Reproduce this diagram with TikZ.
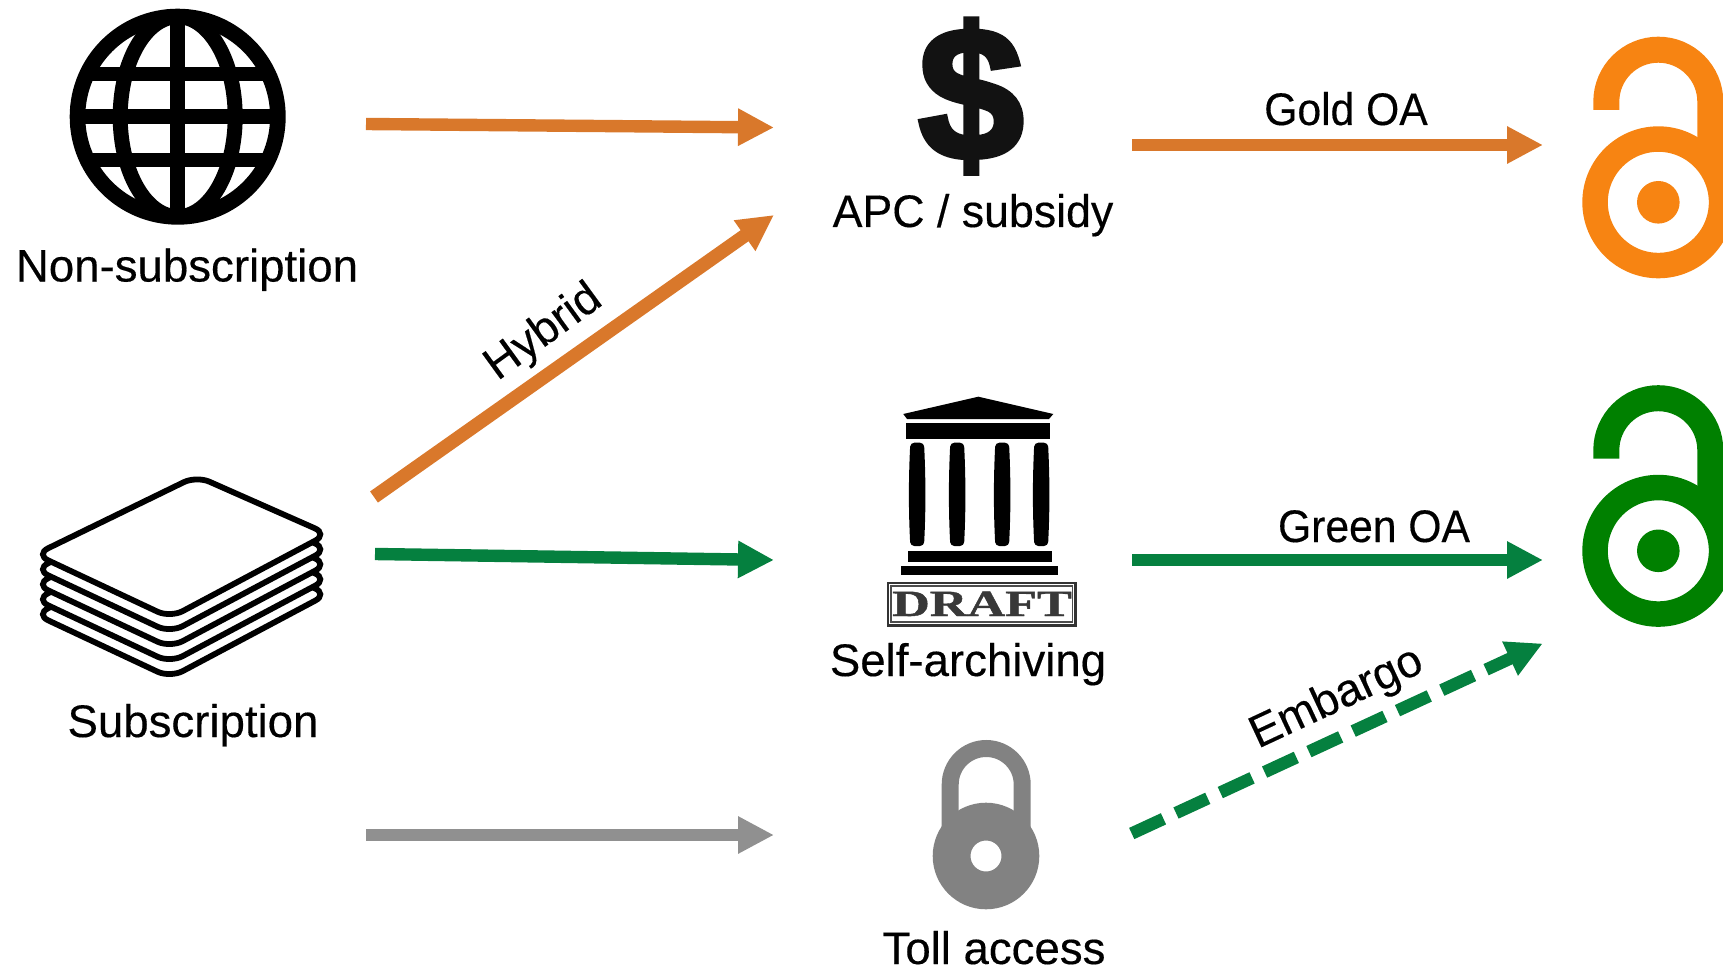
\documentclass[tikz,border=0pt]{standalone}
\usepackage{fontspec}
\setmainfont{Liberation Sans}[FakeBold=0.3]
\newfontfamily\dollarfont[FakeBold=3.2]{Liberation Sans Bold}
\newfontfamily\draftfont[FakeBold=1]{Liberation Serif Bold}
\usetikzlibrary{arrows.meta}
\definecolor{arrorange}{HTML}{D9782B}
\definecolor{arrgreen}{HTML}{05803F}
\definecolor{arrgrey}{HTML}{909090}
\definecolor{oaorange}{HTML}{F78412}
\definecolor{oagreen}{HTML}{008000}
\definecolor{lockgrey}{HTML}{828282}
\tikzset{
  lab/.style={font=\fontsize{22.8pt}{26pt}\selectfont,anchor=base,inner sep=0pt,text=black},
  flow/.style={line width=6.2pt,-{Triangle[length=18pt,width=17.5pt]}},
  sheet/.style={draw=black,fill=white,line width=2.9pt,rounded corners=7pt},
  icon/.style={fill=black,draw=none}
}
\newcommand{\oaicon}[3]{% dy, colour, name
  \begin{scope}[shift={(0,#1)}]
    \draw[#2,line width=13pt] (1606.3,110) -- (1606.3,101.7) arc[start angle=180,end angle=360,radius=52] -- (1710.3,165);
    \draw[#2,line width=12.75pt] (1658.3,202.3) circle[radius=63.25];
    \fill[#2] (1658.3,202.3) circle[radius=21.3];
  \end{scope}
}
\newcommand{\templecol}[2]{%
  \fill[black,rounded corners=2pt] (#1+1,442.7) .. controls (#1-0.8,480) and (#1-0.8,510) .. (#1+1,546) -- (#2-1,546) .. controls (#2+0.8,510) and (#2+0.8,480) .. (#2-1,442.7) -- cycle;
}
\begin{document}
\begin{tikzpicture}[x=0.5pt,y=-0.5pt]
\useasboundingbox (0,0) rectangle (1723,968);
\begin{scope}
\clip (0,0) rectangle (1723,968);

% globe
\begin{scope}
  \clip (177.7,116.7) circle[radius=105];
  \draw[black,line width=7.5pt] (177.7,116.7) ellipse[x radius=57.5,y radius=100];
  \draw[black,line width=7.3pt] (177.7,0) -- (177.7,230);
  \draw[black,line width=7.2pt] (60,74) -- (300,74);
  \draw[black,line width=7.2pt] (60,116.7) -- (300,116.7);
  \draw[black,line width=7.2pt] (60,160) -- (300,160);
\end{scope}
\draw[black,line width=7.8pt] (177.7,116.7) circle[radius=100.2];
\node[lab] (nonsub) at (187,281.5) {Non-subscription};

% stack of sheets
\foreach \dy in {60,45,30,15,0}{
  \draw[sheet,shift={(0,\dy)}] (196.5,476) -- (327.7,534) -- (170.3,617.7) -- (35.5,554.4) -- cycle;
}
\node[lab] (sub) at (193,737) {Subscription};

% dollar
\node[anchor=base,inner sep=0pt,text=black!93] (dollar) at (971,159) {\fontsize{94pt}{100pt}\selectfont\dollarfont \$};
\node[lab,xscale=0.98] (apc) at (973,227) {APC / subsidy};

% temple
\fill[black] (903.3,414) -- (978.3,396.7) -- (1053.3,414) -- (1049,419) -- (907,419) -- cycle;
\fill[black] (906,423.3) rectangle (1050,439.3);
\templecol{909.3}{925}
\templecol{949.3}{965}
\templecol{994.3}{1010}
\templecol{1033.3}{1049}
\fill[black] (907.7,551) rectangle (1051.7,561.7);
\fill[black] (901,566) rectangle (1058,574.7);
\draw[black!80,line width=1.1pt] (888,583) rectangle (1075.5,625.5);
\draw[black!70,line width=0.6pt] (891,586) rectangle (1072.5,622);
\node[inner sep=0pt,anchor=base,text=black!78,font=\fontsize{18.5pt}{20pt}\selectfont\draftfont,xscale=1.41] (draft) at (982,616) {DRAFT};
\node[lab] (self) at (968,676) {Self-archiving};

% lock
\draw[lockgrey,line width=8.5pt] (950.2,845) -- (950.2,784.5) arc[start angle=180,end angle=360,radius=36] -- (1022.2,845);
\fill[lockgrey,even odd rule] (986,856) circle[radius=53.3] (986,856) circle[radius=15.5];
\node[lab] (toll) at (994,964) {Toll access};

% open access icons
\oaicon{0}{oaorange}{oaa}
\oaicon{348.5}{oagreen}{oab}

% connector ends
\coordinate (a1s) at (366,124);  \coordinate (a1e) at (774,127.5);
\coordinate (a2s) at (374,497);  \coordinate (a2e) at (774,215);
\coordinate (a3s) at (375,554);  \coordinate (a3e) at (774,560);
\coordinate (a4s) at (366,835);  \coordinate (a4e) at (774,835);
\coordinate (a5s) at (1132,145); \coordinate (a5e) at (1543,145);
\coordinate (a6s) at (1132,560); \coordinate (a6e) at (1543,560);
\coordinate (a7s) at (1131.7,833.5); \coordinate (a7e) at (1542.7,643.5);

\draw[flow,arrorange] (a1s) -- (a1e);
\draw[flow,arrorange,line width=6.8pt] (a2s) -- (a2e);
\draw[flow,arrgreen] (a3s) -- (a3e);
\draw[flow,arrgrey] (a4s) -- (a4e);
\draw[flow,arrorange] (a5s) -- (a5e);
\draw[flow,arrgreen] (a6s) -- (a6e);
\draw[flow,arrgreen,dash pattern=on 17.5pt off 6.9pt] (a7s) -- (a7e);

\node[lab,xscale=0.935] (gold) at (1346,125) {Gold OA};
\node[lab,xscale=0.935] (green) at (1374,542) {Green OA};
\node[lab,anchor=center,rotate=36] (hybrid) at (544,333) {Hybrid};
\node[lab,anchor=center,rotate=25] (embargo) at (1337,699) {Embargo};
\end{scope}
\end{tikzpicture}
\end{document}
